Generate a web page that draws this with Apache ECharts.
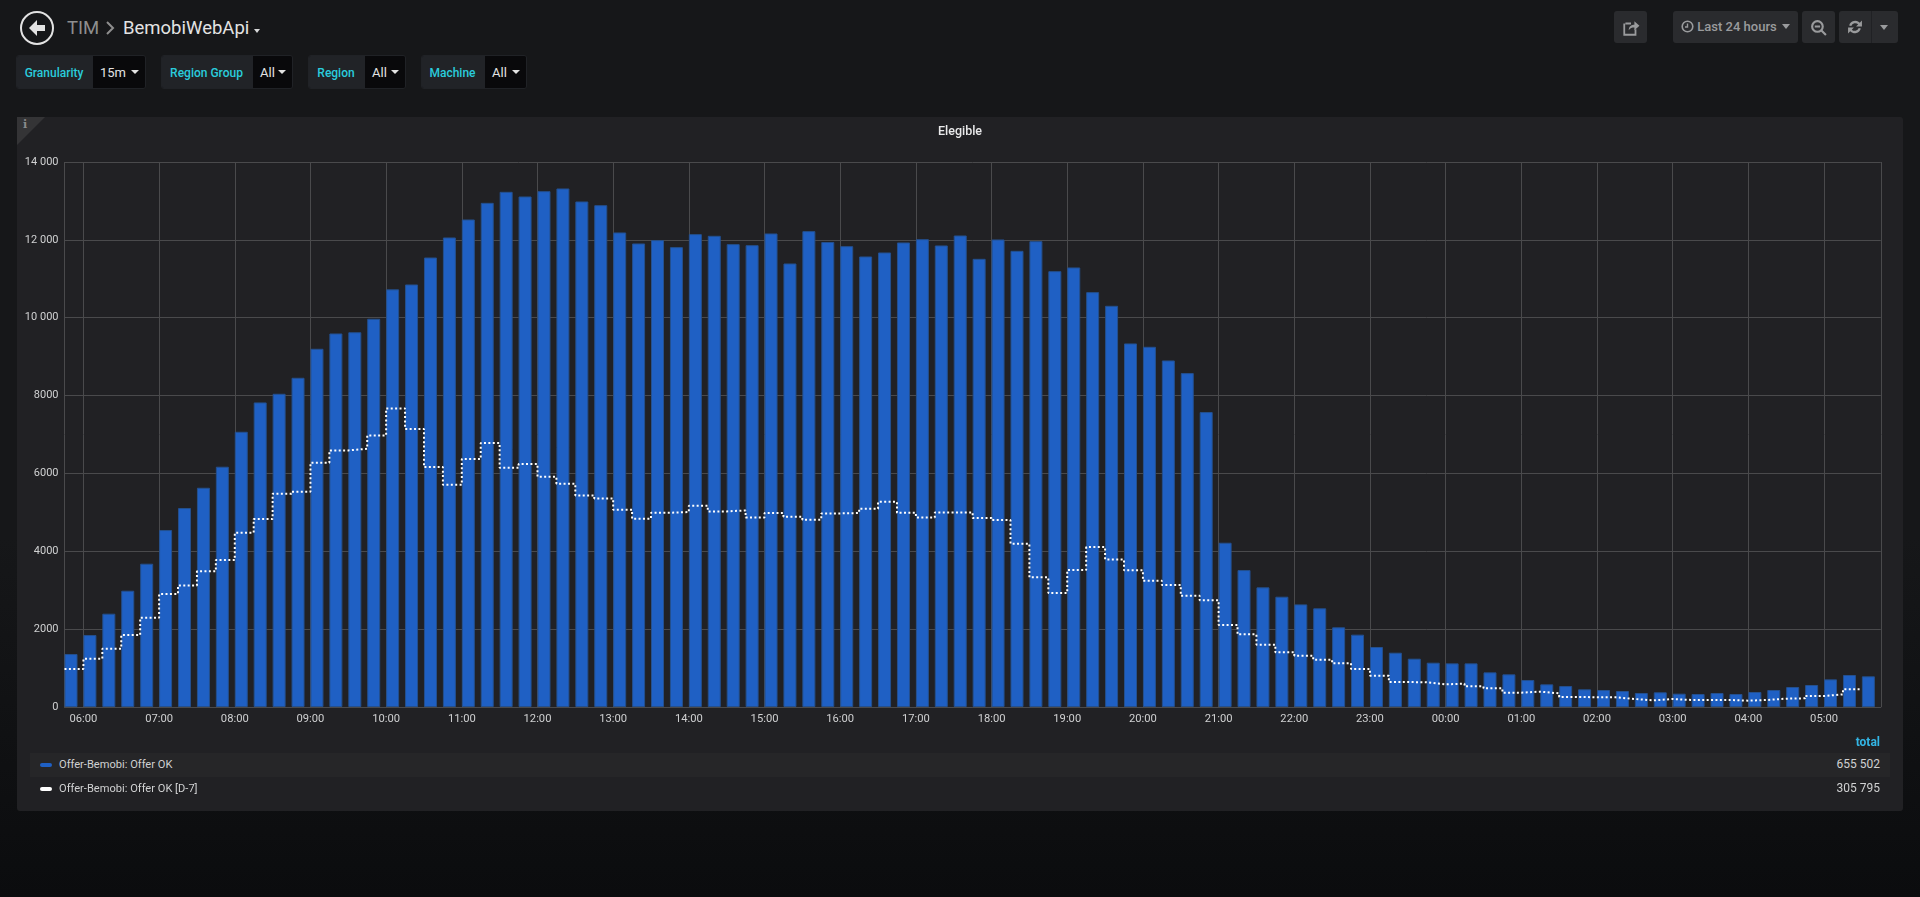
<!DOCTYPE html>
<html><head><meta charset="utf-8">
<script src="https://cdn.jsdelivr.net/npm/echarts@6/dist/echarts.min.js"></script>
<style>
html,body{margin:0;padding:0;width:1920px;height:897px;overflow:hidden;font-family:Roboto,sans-serif;
 background:linear-gradient(180deg,#161719 0%,#161719 60%,#0b0c0e 100%);color:#d8d9da}
.abs{position:absolute;white-space:nowrap}
#panel{left:17px;top:117px;width:1886px;height:694px;background:#212124;border-radius:3px}
#corner{left:17px;top:117px;width:0;height:0;border-top:28px solid #343436;border-right:28px solid transparent}
#chart{left:0;top:0;width:1920px;height:897px}
.var{position:absolute;top:55px;height:34px;border-radius:3px;overflow:hidden;display:flex;border:1px solid #202226;box-sizing:border-box;font-size:13px;line-height:34px}
.var .l{background:#212327;color:#2accdc;font-weight:500;font-size:12px;text-align:center;box-sizing:border-box;padding-right:2px}
.var .v{background:#09090b;color:#e3e3e3;flex:1;padding-left:7px;position:relative}
.var .v:after{content:"";position:absolute;right:6px;top:14px;border:4px solid transparent;border-top:4.5px solid #e3e3e3;border-bottom:0}
.btn{position:absolute;top:11px;height:32px;background:#2a2b2e;border-radius:3px;color:#9a9b9d;font-size:13px;line-height:32px;text-align:center;font-weight:500}
.row{left:30px;width:1860px;height:24px;line-height:23px;font-size:11.1px;color:#d0d1d2}
.sw{position:absolute;left:10px;top:10px;width:12px;height:4px;border-radius:2px}
.row .n{position:absolute;left:29px;top:0}
.row .t{position:absolute;right:10px;top:0;font-size:12px}
</style></head><body>
<div class="abs" id="panel"></div>
<div class="abs" id="corner"></div>
<div class="abs" style="left:23px;top:118px;font-size:11px;font-weight:700;color:#8a8a8c;font-family:'DejaVu Serif',serif">i</div>

<svg class="abs" style="left:19px;top:10px" width="36" height="36" viewBox="0 0 36 36">
 <circle cx="18" cy="18" r="16" fill="none" stroke="#e3e3e3" stroke-width="2"/>
 <path d="M10 18 L18 10 L18 15 L26 15 L26 21 L18 21 L18 26 Z" fill="#e3e3e3"/>
</svg>
<div class="abs" style="left:67px;top:15px;font-size:18.5px;color:#8e8e8e;line-height:26px">TIM</div>
<svg class="abs" style="left:105px;top:20px" width="10" height="16"><path d="M2 2 L8 8 L2 14" fill="none" stroke="#8e8e8e" stroke-width="2"/></svg>
<div class="abs" style="left:123px;top:15px;font-size:18.5px;color:#e3e3e3;line-height:26px">BemobiWebApi</div>
<div class="abs" style="left:254px;top:29px;border:3.5px solid transparent;border-top:4px solid #d8d9da;border-bottom:0"></div>

<div class="var" style="left:16px;width:130px"><div class="l" style="width:76px">Granularity</div><div class="v">15m</div></div>
<div class="var" style="left:161px;width:132px"><div class="l" style="width:91px">Region Group</div><div class="v">All</div></div>
<div class="var" style="left:308px;width:98px"><div class="l" style="width:56px">Region</div><div class="v">All</div></div>
<div class="var" style="left:421px;width:106px"><div class="l" style="width:63px">Machine</div><div class="v">All</div></div>

<div class="btn" style="left:1614px;width:33px"><svg width="18" height="18" viewBox="0 0 16 16" style="vertical-align:middle"><path d="M3 4 H8 M2 4 V14 H12 V9" fill="none" stroke="#9a9b9d" stroke-width="1.6"/><path d="M6 10 C6 6 9 5 11 5 V2 L15.5 6 L11 10 V7.5 C9 7.5 7 8 6 10Z" fill="#9a9b9d"/></svg></div>
<div class="btn" style="left:1673px;width:125px"><svg width="13" height="13" viewBox="0 0 13 13" style="vertical-align:-2px"><circle cx="6.5" cy="6.5" r="5.3" fill="none" stroke="#9a9b9d" stroke-width="1.6"/><path d="M6.5 3.5 V7 H4" fill="none" stroke="#9a9b9d" stroke-width="1.4"/></svg> Last 24 hours <span style="display:inline-block;vertical-align:2px;border:4px solid transparent;border-top:5px solid #9a9b9d;border-bottom:0;margin-left:2px"></span></div>
<div class="btn" style="left:1802px;width:33px"><svg width="17" height="17" viewBox="0 0 16 16" style="vertical-align:middle"><circle cx="7" cy="7" r="5" fill="none" stroke="#9a9b9d" stroke-width="2"/><path d="M4.5 7 H9.5 M10.5 10.5 L15 15" stroke="#9a9b9d" stroke-width="2"/></svg></div>
<div class="btn" style="left:1839px;width:59px;text-align:left"><svg width="16" height="16" viewBox="0 0 15 15" style="position:absolute;left:8px;top:8px"><path d="M2 6 A6 6 0 0 1 12 3.5 L14 1.5 V7 H8.5 L10.5 5 A4 4 0 0 0 4 6.5 Z M13 9 A6 6 0 0 1 3 11.5 L1 13.5 V8 H6.5 L4.5 10 A4 4 0 0 0 11 8.5 Z" fill="#9a9b9d"/></svg><span style="position:absolute;left:32px;top:0;height:32px;border-left:1px solid #202124"></span><span style="position:absolute;left:41px;top:14px;border:4px solid transparent;border-top:5px solid #9a9b9d;border-bottom:0"></span></div>

<div class="abs" id="chart"></div>

<div class="abs" style="right:40px;top:735px;font-size:12px;font-weight:700;color:#33b5e5">total</div>
<div class="abs row" style="top:753px;background:#262628"><span class="sw" style="background:#1f60c4"></span><span class="n">Offer-Bemobi: Offer OK</span><span class="t">655 502</span></div>
<div class="abs row" style="top:777px"><span class="sw" style="background:#fff"></span><span class="n">Offer-Bemobi: Offer OK [D-7]</span><span class="t">305 795</span></div>

<script>
const startTime = Date.UTC(2019,0,1,5,45);
const stepMinutes = 15;
const offerOk = [
 1361,1849,2397,2987,3681,4545,5110,5632,6172,7070,
 7824,8046,8457,9202,9595,9627,9973,10728,10854,11546,
 12061,12523,12951,13234,13114,13251,13320,12986,12891,12190,
 11907,11993,11813,12147,12104,11890,11864,12164,11393,12224,
 11945,11838,11573,11676,11933,12018,11856,12112,11513,12010,
 11718,11967,11196,11291,10657,10306,9339,9253,8902,8577,
 7576,4220,3518,3073,2833,2636,2534,2046,1858,1541,
 1395,1241,1138,1121,1121,890,839,693,582,539,
 454,437,411,360,377,342,334,360,334,385,
 437,514,565,710,822,788];
const offerOkD7 = [
 976,1241,1498,1849,2294,2902,3124,3484,3775,4477,
 4828,5478,5530,6274,6591,6634,6976,7670,7139,6163,
 5710,6369,6780,6146,6240,5915,5735,5436,5359,5068,
 4836,4990,5008,5170,5025,5050,4871,4982,4888,4811,
 4973,4982,5093,5273,4990,4871,4999,4999,4854,4802,
 4194,3330,2928,3518,4109,3792,3510,3244,3133,2859,
 2739,2106,1866,1601,1404,1318,1216,1121,976,805,
 642,633,582,599,531,479,368,394,351,260,
 248,248,205,171,205,180,180,180,163,180,
 214,223,282,325,454,454];
const yMax = 14000, yStep = 2000;

const stepMs = stepMinutes*60000;
const timeAt = i => startTime + i*stepMs;
const gridLeft = 64.5, gridRight = 39.2, barPx = 13;
const msPerPx = 96*stepMs/(1920-gridLeft-gridRight);
// Grafana draws each bar starting at its timestamp: shift the bar centre by half its width
const barCentreOffset = barPx/2*msPerPx;
// ECharts widens a time axis by half a bar on each side when bars are present; cancel that
const axisInset = barPx/2*msPerPx;
const fmtY = v => v>=10000 ? String(v).slice(0,-3)+' '+String(v).slice(-3) : String(v);
const pad = n => String(n).padStart(2,'0');

const chart = echarts.init(document.getElementById('chart'),null,{renderer:'canvas'});
chart.setOption({
 animation:false,
 backgroundColor:'transparent',
 useUTC:true,
 textStyle:{fontFamily:'Roboto'},
 title:{text:'Elegible',left:'center',top:124,padding:0,textStyle:{color:'#e9e9ea',fontSize:12.5,fontWeight:500,fontFamily:'Roboto',lineHeight:16}},
 grid:{left:gridLeft,right:gridRight,top:162,bottom:190,containLabel:false},
 xAxis:{type:'time',min:timeAt(0)+axisInset,max:timeAt(96)-axisInset,minInterval:3600000,maxInterval:3600000,
  axisLine:{show:true,lineStyle:{color:'#4a4a4c',width:1}},axisTick:{show:false},
  axisLabel:{color:'#d0d1d2',fontSize:11.2,fontFamily:'Roboto',margin:7,showMinLabel:false,showMaxLabel:false,hideOverlap:false,
   formatter:v=>{const d=new Date(v);return pad(d.getUTCHours())+':'+pad(d.getUTCMinutes());}},
  splitLine:{show:true,lineStyle:{color:'#4a4a4c',width:1}}},
 yAxis:{type:'value',min:0,max:yMax,interval:yStep,
  axisLine:{show:false},axisTick:{show:false},
  axisLabel:{color:'#d0d1d2',fontSize:11,fontFamily:'Roboto',margin:6,formatter:fmtY},
  splitLine:{show:true,lineStyle:{color:'#4a4a4c',width:1}}},
 series:[
  {name:'Offer-Bemobi: Offer OK',type:'bar',barWidth:barPx,clip:false,
   itemStyle:{color:'#1f60c4',borderColor:'#24508f',borderWidth:1},
   data:offerOk.map((v,i)=>[timeAt(i)+barCentreOffset,v])},
  {name:'Offer-Bemobi: Offer OK [D-7]',type:'line',step:'end',symbol:'none',clip:false,
   lineStyle:{color:'#ffffff',width:2,type:[2,2.4]},
   data:offerOkD7.map((v,i)=>[timeAt(i),v])}
 ]
});
</script>
</body></html>
